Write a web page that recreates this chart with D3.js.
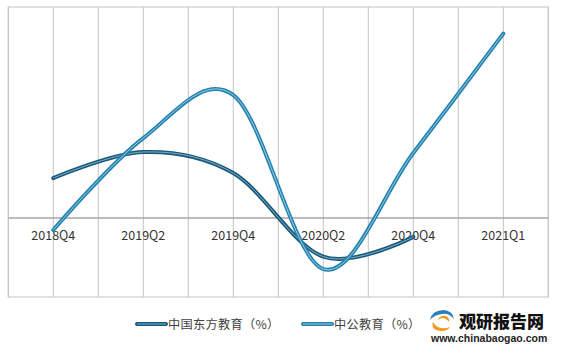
<!DOCTYPE html>
<html><head><meta charset="utf-8">
<script src="https://cdn.jsdelivr.net/npm/d3@7"></script>
<style>
html,body{margin:0;padding:0;background:#fff;}
svg{display:block;font-family:"Noto Sans CJK SC","Noto Sans",sans-serif;}
</style></head>
<body><svg id="c" width="562" height="355"></svg>
<script>
const categories = ["2018Q4","2019Q2","2019Q4","2020Q2","2020Q4","2021Q1"];
const seriesNames = ["中国东方教育（%）","中公教育（%）"];
const dongfang = [15.1, 25.0, 17.0, -14.7, -7.2, null];
const zhonggong = [-4.6, 30.3, 46.6, -19.4, 24.6, 69.9];
const yDomain = [-30, 80];

const svg = d3.select("#c");
const L = 8.3, R = 548.3, T = 7, B = 297;
const x = d3.scaleBand().domain(categories).range([L, R]);
const cx = d => x(d) + x.bandwidth()/2;
const y = d3.scaleLinear().domain(yDomain).range([B, T]);

const gx = [];
categories.forEach(c => { gx.push(x(c)); gx.push(cx(c)); });
gx.push(R);
svg.append("g").selectAll("line").data(gx).join("line")
  .attr("x1", d => d).attr("x2", d => d).attr("y1", T).attr("y2", B)
  .attr("stroke", "#c4c4c4").attr("stroke-width", 1);
svg.append("rect").attr("x", L).attr("y", T).attr("width", R - L).attr("height", B - T)
  .attr("fill", "none").attr("stroke", "#c4c4c4").attr("stroke-width", 1);
svg.append("line").attr("x1", L).attr("x2", R).attr("y1", y(0)).attr("y2", y(0))
  .attr("stroke", "#a6a6a6").attr("stroke-width", 1.5);

const xAxis = d3.axisBottom(x).tickSize(0).tickPadding(0);
const ax = svg.append("g").attr("transform", `translate(0,${y(0)})`).call(xAxis);
ax.select(".domain").remove();
ax.selectAll("text").attr("dy", null).attr("y", 22)
  .attr("font-size", 12.5).attr("fill", "#333")
  .attr("font-family", '"Noto Sans CJK SC",sans-serif');

const line = d3.line()
  .defined(d => d.v !== null)
  .x(d => cx(d.c)).y(d => y(d.v))
  .curve(d3.curveCardinal.tension(0));

const series = [
  {vals: dongfang, outer: "#185a7d", inner: "#9cc0d3"},
  {vals: zhonggong, outer: "#2283b0", inner: "#bcdcec"}
];
series.forEach(s => {
  const data = categories.map((c, i) => ({c, v: s.vals[i]}));
  const g = svg.append("g");
  g.append("path").attr("d", line(data)).attr("fill", "none")
    .attr("stroke", s.outer).attr("stroke-width", 4).attr("stroke-linecap", "round");
  g.append("path").attr("d", line(data)).attr("fill", "none")
    .attr("stroke", s.inner).attr("stroke-width", 0.8);
});

const legX = [137, 303];
seriesNames.forEach((n, i) => {
  const s = series[i];
  const g = svg.append("g");
  g.append("line").attr("x1", legX[i]).attr("x2", legX[i] + 29).attr("y1", 324).attr("y2", 324)
    .attr("stroke", s.outer).attr("stroke-width", 4).attr("stroke-linecap", "round");
  g.append("line").attr("x1", legX[i]).attr("x2", legX[i] + 29).attr("y1", 324).attr("y2", 324)
    .attr("stroke", s.inner).attr("stroke-width", 0.8);
  g.append("text").attr("x", legX[i] + 31).attr("y", 328.5).text(n)
    .attr("font-size", 12.2).attr("fill", "#404040").attr("letter-spacing", 0.3);
});

const logo = svg.append("g");
logo.append("path").attr("d", "M433,322 Q438,331 450,327 Q446,333 436,330 Q431,327 433,322 Z").attr("fill", "#f39a1e");
logo.append("path").attr("d", "M430,320 Q432,310 444,310 Q453,311 454,319 Q449,313 442,314 Q434,315 430,320 Z").attr("fill", "#2a7fb8");
logo.append("path").attr("d", "M438,320 Q440,315 446,316 Q450,318 449,322 Q446,318 442,318 Q439,319 438,320 Z").attr("fill", "#f39a1e");
logo.append("text").attr("x", 459).attr("y", 328).text("观研报告网")
  .attr("font-size", 17).attr("font-weight", 900).attr("fill", "#111");
logo.append("text").attr("x", 431).attr("y", 342).text("www.chinabaogao.com")
  .attr("font-size", 10.5).attr("font-weight", 700).attr("fill", "#222")
  .attr("font-family", '"Liberation Sans",Arial,sans-serif');
</script></body></html>
